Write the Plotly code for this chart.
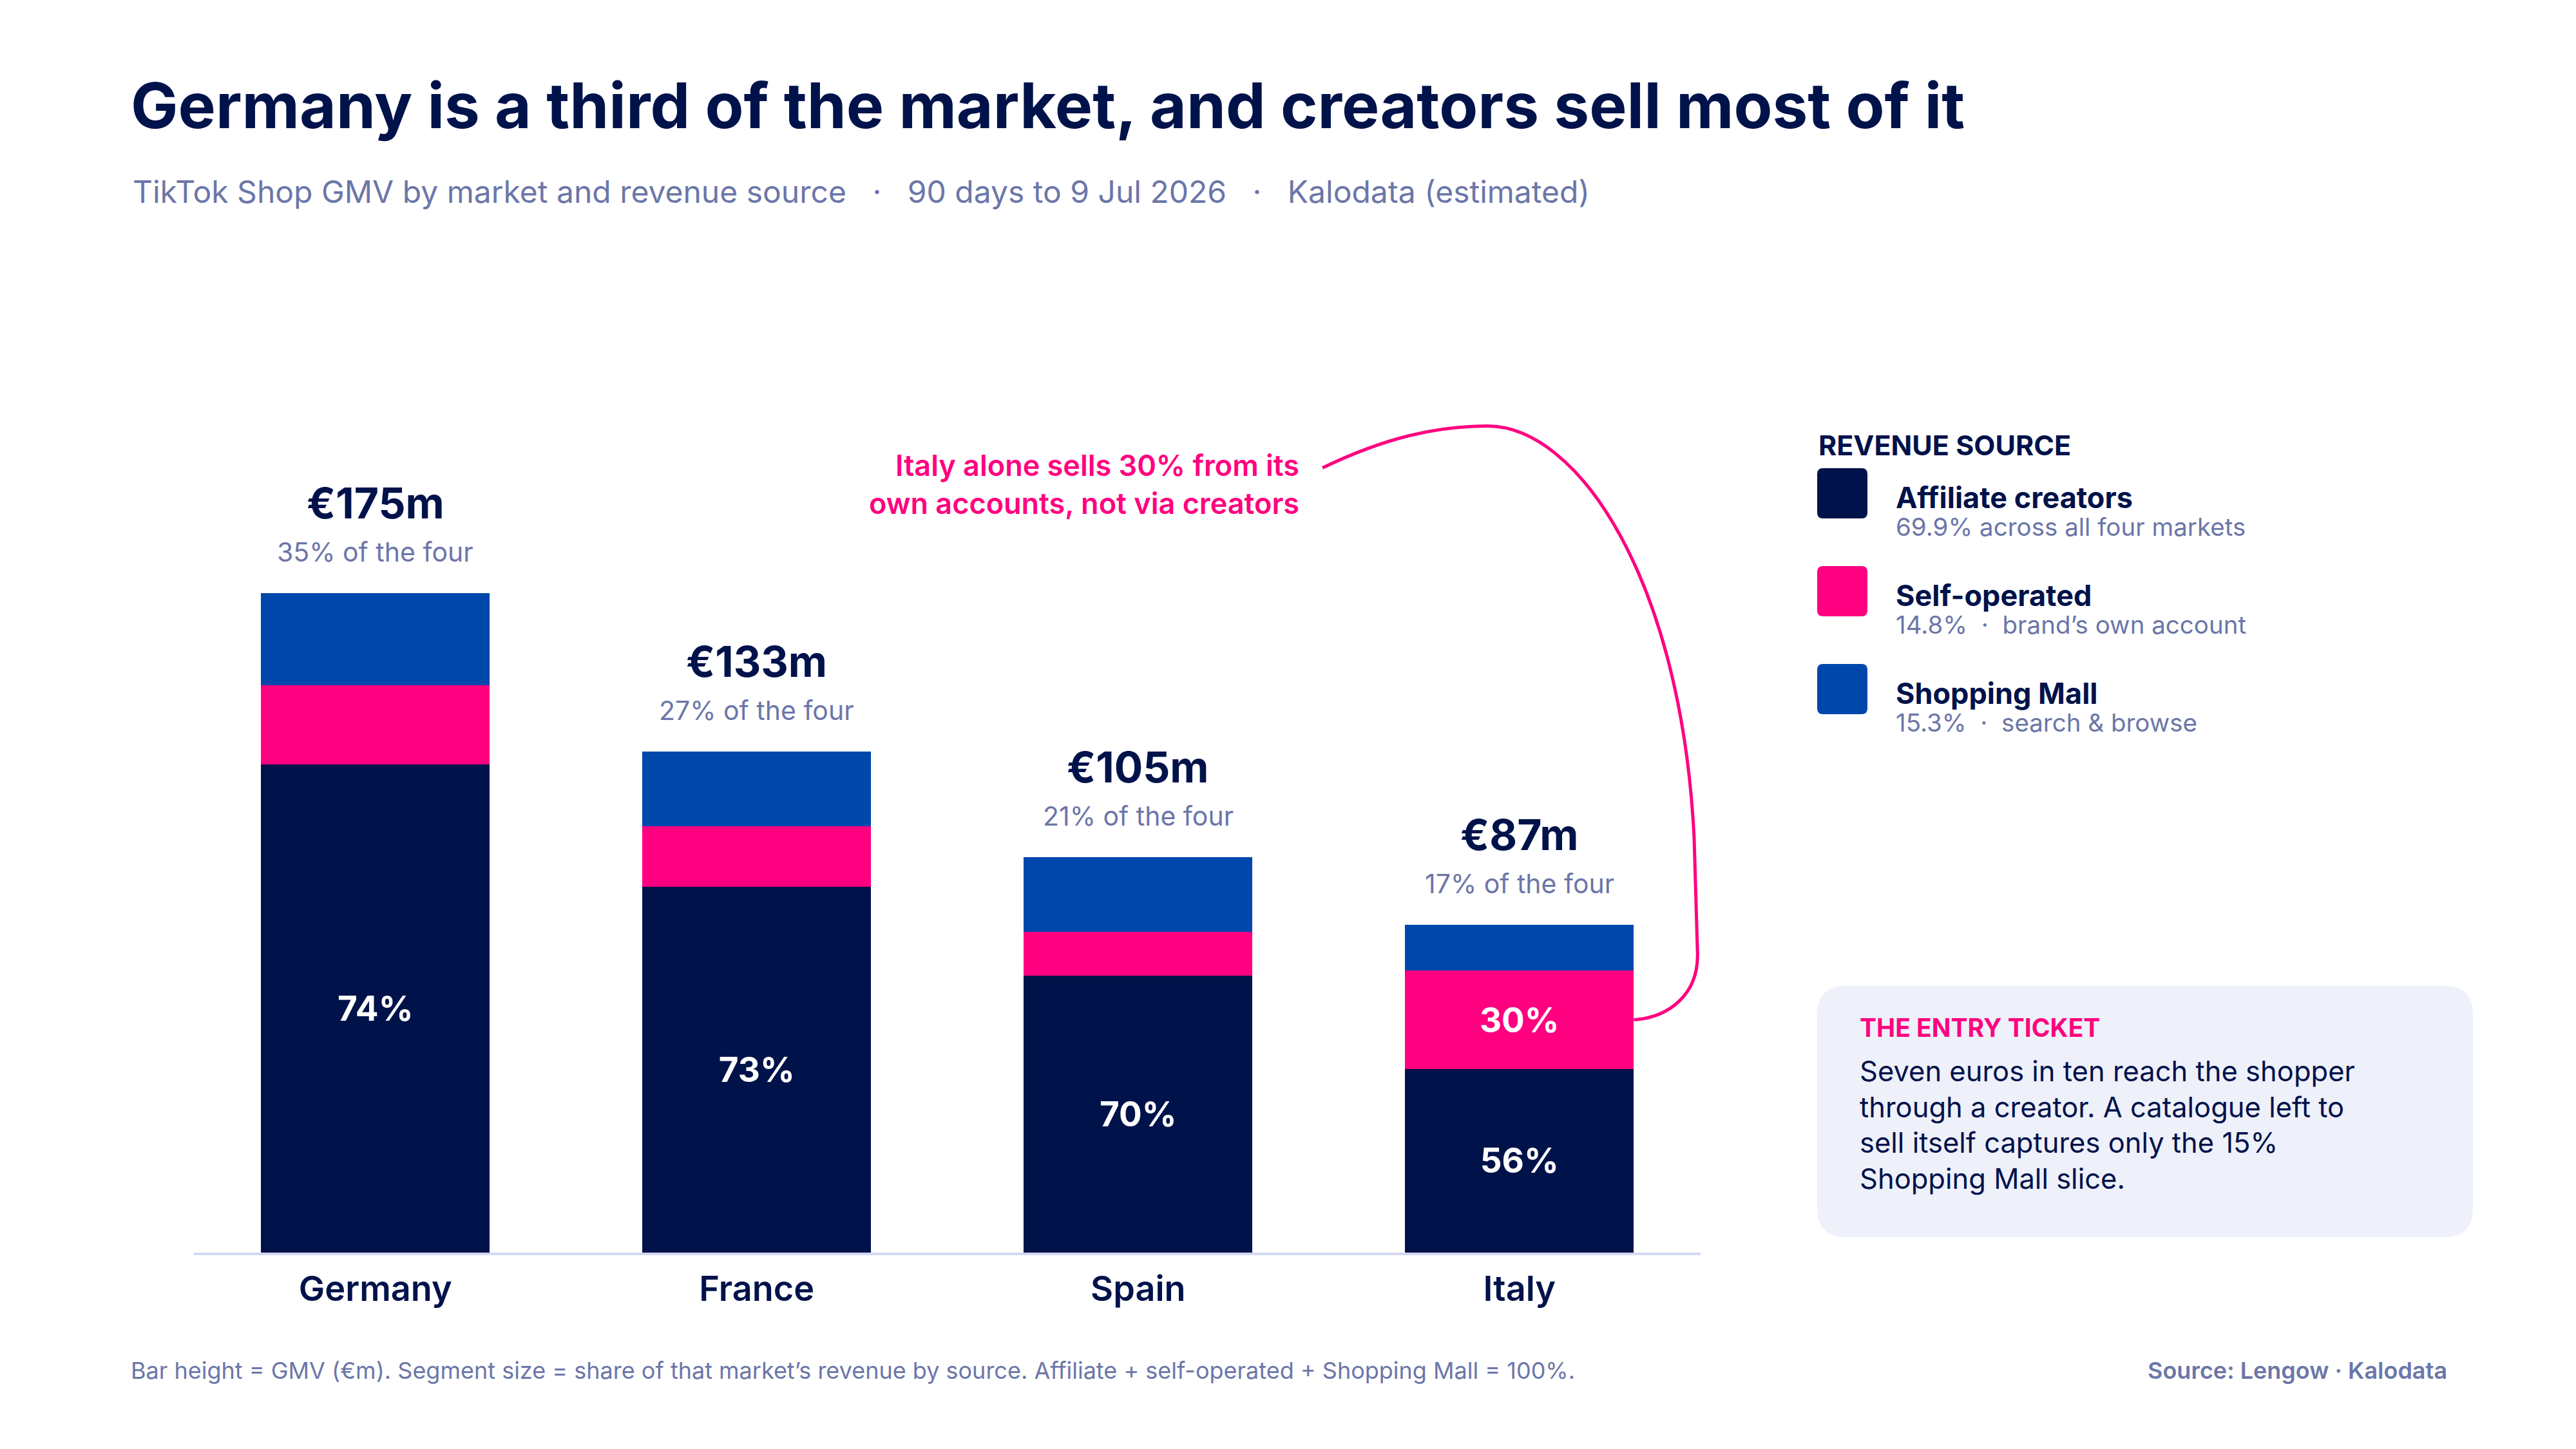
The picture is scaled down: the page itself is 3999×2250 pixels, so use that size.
import plotly.graph_objects as go

# ---------------- data ----------------
markets = ["Germany", "France", "Spain", "Italy"]
gmv_m = [175, 133, 105, 87]                 # € millions, 90 days
affiliate_pct = [74, 73, 70, 56]
self_operated_pct = [12, 12, 11, 30]
shopping_mall_pct = [14, 15, 19, 14]

legend_names = ["Affiliate creators", "Self-operated", "Shopping Mall"]
legend_notes = ["69.9% across all four markets",
                "14.8%  \u00b7  brand\u2019s own account",
                "15.3%  \u00b7  search & browse"]

# ---------------- style ----------------
NAVY = "#00124A"
PINK = "#FF0080"
BLUE = "#0047AB"
MUTED = "#6B76A8"
AXIS = "#D3D8F2"
BOXBG = "#EEF0FA"
FONT = "Inter"

W, H = 3999, 2250
ML, MR, MT, MB = 301, 1359, 599, 305
PW, PH = W - ML - MR, H - MT - MB
Y_MAX = 230


def px(x):  # pixel -> paper x
    return (x - ML) / PW


def py(y):  # pixel -> paper y
    return (H - MB - y) / PH


def rounded_rect(x0, y0, x1, y1, r):
    pts = [
        f"M {px(x0 + r)},{py(y0)}",
        f"L {px(x1 - r)},{py(y0)}",
        f"Q {px(x1)},{py(y0)} {px(x1)},{py(y0 + r)}",
        f"L {px(x1)},{py(y1 - r)}",
        f"Q {px(x1)},{py(y1)} {px(x1 - r)},{py(y1)}",
        f"L {px(x0 + r)},{py(y1)}",
        f"Q {px(x0)},{py(y1)} {px(x0)},{py(y1 - r)}",
        f"L {px(x0)},{py(y0 + r)}",
        f"Q {px(x0)},{py(y0)} {px(x0 + r)},{py(y0)}",
        "Z",
    ]
    return " ".join(pts)


aff_val = [g * p / 100 for g, p in zip(gmv_m, affiliate_pct)]
self_val = [g * p / 100 for g, p in zip(gmv_m, self_operated_pct)]
mall_val = [g * p / 100 for g, p in zip(gmv_m, shopping_mall_pct)]

fig = go.Figure()
fig.add_bar(x=markets, y=aff_val, marker_color=NAVY, name=legend_names[0],
            text=[f"{p}%" for p in affiliate_pct], textposition="inside",
            insidetextanchor="middle", textangle=0,
            textfont=dict(family=FONT, size=53, color="white", weight=700))
self_text = [f"{p}%" if p >= 25 else "" for p in self_operated_pct]
fig.add_bar(x=markets, y=self_val, marker_color=PINK, name=legend_names[1],
            text=self_text, textposition="inside",
            insidetextanchor="middle", textangle=0,
            textfont=dict(family=FONT, size=53, color="white", weight=700))
fig.add_bar(x=markets, y=mall_val, marker_color=BLUE, name=legend_names[2],
            textposition="none")

fig.update_traces(width=0.6, marker_line_width=0, hoverinfo="skip")

total = sum(gmv_m)
annotations = []
shapes = []

# values above bars
for m, g in zip(markets, gmv_m):
    annotations.append(dict(x=m, y=g, xref="x", yref="y", text=f"\u20ac{g}m",
                            showarrow=False, yanchor="middle", yshift=140,
                            font=dict(family=FONT, size=66, color=NAVY, weight=700)))
    annotations.append(dict(x=m, y=g, xref="x", yref="y",
                            text=f"{round(100 * g / total)}% of the four",
                            showarrow=False, yanchor="middle", yshift=64,
                            font=dict(family=FONT, size=41, color=MUTED)))

# title / subtitle
annotations.append(dict(x=px(201), y=py(163), xref="paper", yref="paper",
                        text="Germany is a third of the market, and creators sell most of it",
                        showarrow=False, xanchor="left", yanchor="middle",
                        font=dict(family=FONT, size=98, color=NAVY, weight=700)))
annotations.append(dict(x=px(204), y=py(298), xref="paper", yref="paper",
                        text="TikTok Shop GMV by market and revenue source   \u00b7   90 days to 9 Jul 2026   \u00b7   Kalodata (estimated)",
                        showarrow=False, xanchor="left", yanchor="middle",
                        font=dict(family=FONT, size=48, color=MUTED)))

# callout annotation text
annotations.append(dict(x=px(2019), y=py(752), xref="paper", yref="paper",
                        text="Italy alone sells 30% from its<br>own accounts, not via creators",
                        showarrow=False, xanchor="right", yanchor="middle", align="right",
                        font=dict(family=FONT, size=45, color=PINK, weight=600)))

# connector curve (data coordinates), ending at middle of Italy's self-operated segment
end_x = 3 + 0.3
end_y = aff_val[3] + self_val[3] / 2
path = (f"M 2.4835,208.2 C 2.647,216.2 2.782,219.3 2.916,219.3 "
        f"C 3.154,219.3 3.424,178.6 3.458,110.2 "
        f"L 3.467,79.5 C 3.470,68.4 3.391,{end_y + 0.6} {end_x},{end_y}")
shapes.append(dict(type="path", path=path, xref="x", yref="y",
                   line=dict(color=PINK, width=5), layer="above"))

# legend
annotations.append(dict(x=px(2821), y=py(691), xref="paper", yref="paper",
                        text="REVENUE SOURCE", showarrow=False, xanchor="left", yanchor="middle",
                        font=dict(family=FONT, size=43, color=NAVY, weight=700)))
sw_colors = [NAVY, PINK, BLUE]
for i in range(3):
    top = 727 + i * 152
    shapes.append(dict(type="path", path=rounded_rect(2821, top, 2899, top + 78, 9),
                       xref="paper", yref="paper", fillcolor=sw_colors[i],
                       line=dict(width=0), layer="above"))
    annotations.append(dict(x=px(2941), y=py(top + 45), xref="paper", yref="paper",
                            text=legend_names[i], showarrow=False, xanchor="left", yanchor="middle",
                            font=dict(family=FONT, size=45, color=NAVY, weight=700)))
    annotations.append(dict(x=px(2941), y=py(top + 91), xref="paper", yref="paper",
                            text=legend_notes[i], showarrow=False, xanchor="left", yanchor="middle",
                            font=dict(family=FONT, size=38.5, color=MUTED)))

# entry-ticket box
shapes.append(dict(type="path", path=rounded_rect(2821, 1531, 3839, 1921, 45),
                   xref="paper", yref="paper", fillcolor=BOXBG, line=dict(width=0), layer="below"))
annotations.append(dict(x=px(2885), y=py(1595), xref="paper", yref="paper",
                        text="THE ENTRY TICKET", showarrow=False, xanchor="left", yanchor="middle",
                        font=dict(family=FONT, size=39, color=PINK, weight=700)))
body = ["Seven euros in ten reach the shopper",
        "through a creator. A catalogue left to",
        "sell itself captures only the 15%",
        "Shopping Mall slice."]
for i, line in enumerate(body):
    annotations.append(dict(x=px(2885), y=py(1663 + i * 55.7), xref="paper", yref="paper",
                            text=line, showarrow=False, xanchor="left", yanchor="middle",
                            font=dict(family=FONT, size=43.5, color=NAVY)))

# footer
annotations.append(dict(x=px(201), y=py(2128), xref="paper", yref="paper",
                        text="Bar height = GMV (\u20acm). Segment size = share of that market\u2019s revenue by source. Affiliate + self-operated + Shopping Mall = 100%.",
                        showarrow=False, xanchor="left", yanchor="middle",
                        font=dict(family=FONT, size=36, color=MUTED)))
annotations.append(dict(x=px(3801), y=py(2128), xref="paper", yref="paper",
                        text="Source: Lengow \u00b7 Kalodata",
                        showarrow=False, xanchor="right", yanchor="middle",
                        font=dict(family=FONT, size=36, color=MUTED, weight=600)))

fig.update_layout(
    width=W, height=H,
    barmode="stack", bargap=0.4, showlegend=False,
    paper_bgcolor="white", plot_bgcolor="white",
    margin=dict(l=ML, r=MR, t=MT, b=MB, autoexpand=False),
    xaxis=dict(type="category", range=[-0.476, 3.475], showgrid=False, zeroline=False,
               showline=True, linecolor=AXIS, linewidth=4, ticks="",
               tickfont=dict(family=FONT, size=54, color=NAVY, weight=600),
               ticklabelstandoff=6, fixedrange=True),
    yaxis=dict(range=[0, Y_MAX], visible=False, fixedrange=True),
    annotations=annotations, shapes=shapes,
    uniformtext=dict(mode=False),
)

fig.write_html("out.html", config={"displayModeBar": False})
